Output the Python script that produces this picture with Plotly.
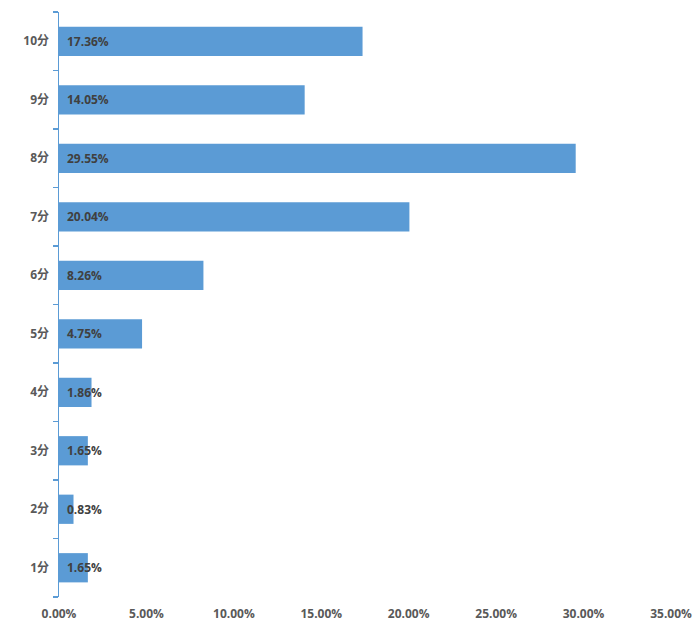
import plotly.graph_objects as go

categories = ["1分", "2分", "3分", "4分", "5分", "6分", "7分", "8分", "9分", "10分"]
values = [1.65, 0.83, 1.65, 1.86, 4.75, 8.26, 20.04, 29.55, 14.05, 17.36]
x_ticks = [0, 5, 10, 15, 20, 25, 30, 35]
x_tick_labels = [f"{v:.2f}%" for v in x_ticks]
labels = [f"{v:.2f}%" for v in values]

bar_color = "#5B9BD5"
font_family = "Open Sans, Noto Sans CJK SC, sans-serif"

fig = go.Figure()
fig.add_trace(go.Bar(
    y=categories, x=values, orientation="h",
    marker=dict(color=bar_color, line=dict(width=0)),
    hoverinfo="skip",
))

for c, lab in zip(categories, labels):
    fig.add_annotation(
        x=0, y=c, text=f"<b>{lab}</b>", showarrow=False,
        xanchor="left", xshift=6,
        font=dict(family=font_family, size=12, color="#404040"),
    )

fig.update_layout(
    width=700, height=638,
    margin=dict(l=59, r=29, t=12, b=41),
    paper_bgcolor="white", plot_bgcolor="white",
    bargap=0.5,
    showlegend=False,
    hovermode=False,
    font=dict(family=font_family, size=12, color="#595959"),
)
fig.update_xaxes(
    range=[0, 35], tickvals=x_ticks, ticktext=[f"<b>{t}</b>" for t in x_tick_labels],
    showgrid=False, zeroline=False, showline=False, ticks="",
    tickfont=dict(family=font_family, size=12, color="#595959"),
    automargin=False, ticklabelstandoff=8,
)
fig.update_yaxes(
    categoryorder="array", categoryarray=categories,
    tickvals=categories, ticktext=[f"<b>{c}</b>" for c in categories],
    showgrid=False, zeroline=False, showline=True, linecolor=bar_color, linewidth=1.5,
    ticks="outside", tickson="boundaries", ticklen=5, tickcolor=bar_color, tickwidth=1.5,
    tickfont=dict(family=font_family, size=12, color="#595959"),
    ticklabelstandoff=6, automargin=False,
)

fig.write_html(
    "out.html",
    config={"displayModeBar": False, "staticPlot": True},
    post_script="document.body.style.margin='0';document.body.style.overflow='hidden';",
)
